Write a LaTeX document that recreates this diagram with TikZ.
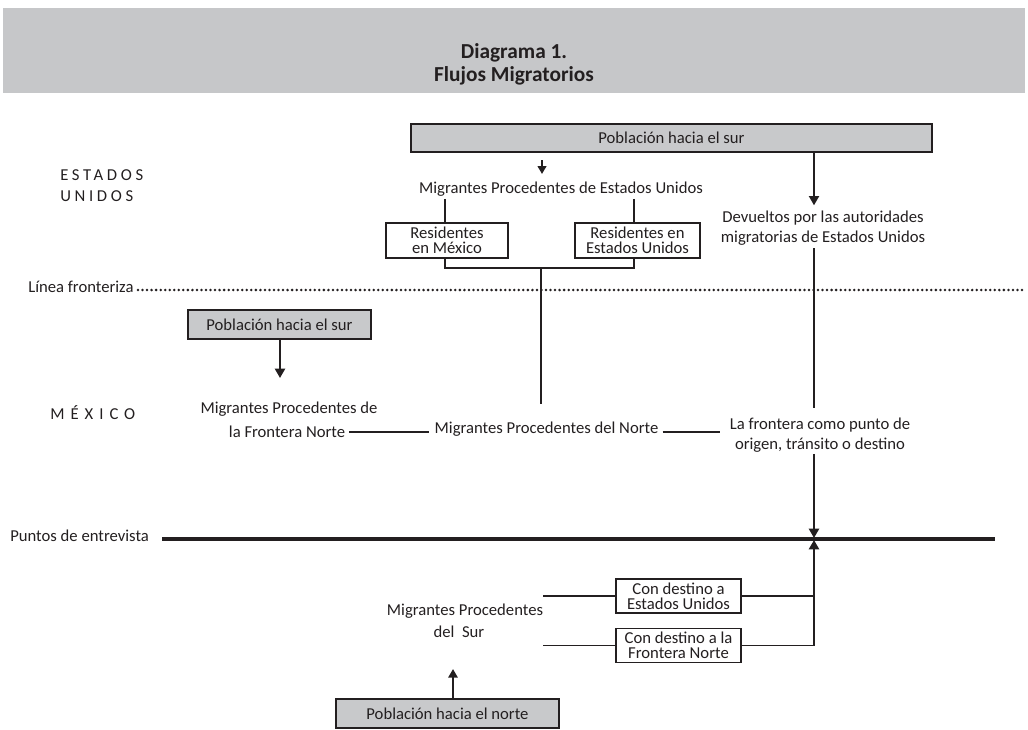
\documentclass[tikz,border=0pt]{standalone}
\usepackage{fontspec}
\setmainfont{Carlito}
\usetikzlibrary{arrows.meta}
\definecolor{hdr}{HTML}{C6C7C9}
\definecolor{boxg}{HTML}{C8C9CB}
\definecolor{ink}{HTML}{231F20}
\begin{document}
\begin{tikzpicture}[x=0.75pt,y=-0.75pt,
  every node/.style={text=ink, inner sep=0pt, font=\fontsize{12.5}{15}\selectfont},
  graybox/.style={draw=ink, fill=boxg, line width=0.9pt},
  whitebox/.style={draw=ink, fill=white, line width=0.9pt, align=center, font=\fontsize{12.5}{11.2}\selectfont},
  thin/.style={draw=ink, line width=0.95pt},
  flow/.style={draw=ink, line width=1.6pt, -{Triangle[length=7pt,width=7.5pt]}},
  caps/.style={font=\fontsize{12.5}{14}\selectfont\addfontfeature{LetterSpace=#1}},
  caps/.default=20,
  ttl/.style={font=\fontsize{16}{18}\bfseries\selectfont},
  dots/.style={draw=ink, line width=2.1pt, line cap=round, dash pattern=on 0pt off 3.4pt}
]
\useasboundingbox (0,0) rectangle (1028,729);
% header
\fill[hdr] (3,8) rectangle (1025,93);
\node[ttl, anchor=base] (t1) at (514,58.5) {Diagrama 1.};
\node[ttl, anchor=base] (t2) at (514,81) {Flujos Migratorios};

% side labels
\node[caps=22, anchor=base west] (eu1) at (60,180) {ESTADOS};
\node[caps=22, anchor=base west] (eu2) at (60,201) {UNIDOS};
\node[caps=36, anchor=base west] (mx) at (50,419) {MÉXICO};
\node[anchor=base west] (lf) at (28,292) {Línea fronteriza};
\node[anchor=base west] (pe) at (10,541) {Puntos de entrevista};

% border dotted line
\coordinate (ds) at (138,290);
\coordinate (de) at (1022,290);
\draw[dots] (ds) -- (de);

% interview line
\coordinate (pe2) at (995,539);
\draw[draw=ink, line width=2.3pt, shorten <=9.75pt] (pe.east |- pe2) -- (pe2);

% top part
\node[graybox, minimum width=390.75pt, minimum height=21pt] (pop1) at (671.5,138) {Población hacia el sur};
\node[anchor=base] (mpeu) at (561,193) {Migrantes Procedentes de Estados Unidos};
\coordinate (a1s) at (542,160);
\coordinate (a1e) at (542,174);
\draw[flow, line width=1.5pt, -{Triangle[length=6pt,width=6.5pt]}] (a1s) -- (a1e);

\node[whitebox, minimum width=91.5pt, minimum height=26.25pt] (resmx) at (447,240.5) {Residentes\\en México};
\node[whitebox, minimum width=93.75pt, minimum height=26.25pt] (reseu) at (637.5,240.5) {Residentes en\\Estados Unidos};
\coordinate (xl1) at (445,0);
\coordinate (xr1) at (634,0);
\draw[thin, shorten <=2pt] (mpeu.south -| xl1) -- (resmx.north -| xl1);
\draw[thin, shorten <=2pt] (mpeu.south -| xr1) -- (reseu.north -| xr1);
\coordinate (j1) at (541,268);
\coordinate (j2) at (541,404);
\draw[thin] (resmx.south -| xl1) |- (j1) -| (reseu.south -| xr1);
\draw[thin] (j1) -- (j2);

% returned
\node[anchor=base] (dev1) at (823,222.5) {Devueltos por las autoridades};
\node[anchor=base] (dev2) at (823,242.5) {migratorias de Estados Unidos};
\coordinate (xd) at (814,0);
\draw[flow, shorten >=4pt] (pop1.south -| xd) -- (dev1.north -| xd);

% middle
\node[graybox, minimum width=137.25pt, minimum height=21.75pt] (pop2) at (279.5,324.5) {Población hacia el sur};
\coordinate (a2e) at (280,378);
\draw[flow] (pop2.south -| a2e) -- (a2e);

\node[anchor=base] (mf1) at (289,413.5) {Migrantes Procedentes de};
\node[anchor=base] (mf2) at (287,437.5) {la Frontera Norte};
\node[anchor=base] (mpn) at (546.5,433.5) {Migrantes Procedentes del Norte};
\node[anchor=base] (fr1) at (820,429.5) {La frontera como punto de};
\node[anchor=base] (fr2) at (820,449.5) {origen, tránsito o destino};
\coordinate (yl) at (0,432);
\draw[thin, shorten <=3pt, shorten >=3.75pt] (mf2.east |- yl) -- (mpn.west |- yl);
\draw[thin, shorten <=3pt, shorten >=7.5pt] (mpn.east |- yl) -- (fr1.west |- yl);
\draw[thin, shorten <=2pt, shorten >=7pt] (dev2.south -| xd) -- (fr1.north -| xd);

\coordinate (dt) at (814,538);
\coordinate (ut) at (814,540);
\draw[flow, line width=2pt, shorten <=1pt] (fr2.south -| xd) -- (dt);

% bottom
\node[whitebox, minimum width=93.75pt, minimum height=25.5pt] (cd1) at (678.5,596) {Con destino a\\Estados Unidos};
\node[whitebox, minimum width=93.75pt, minimum height=25.5pt] (cd2) at (678.5,645.5) {Con destino a la\\Frontera Norte};
\draw[thin] (cd1.east) -- (cd1.east -| xd);
\draw[thin] (cd2.east) -- (cd2.east -| xd);
\draw[flow, line width=2pt] (cd2.east -| xd) -- (ut);

\node[anchor=base] (ms1) at (465,615) {Migrantes Procedentes};
\node[anchor=base] (ms2) at (459,637) {del\ \ Sur};
\draw[thin] (cd1.west) -- (cd1.west -| ms1.east);
\draw[thin] (cd2.west) -- (cd2.west -| ms1.east);

\node[graybox, minimum width=167.25pt, minimum height=21.75pt] (pop3) at (447.5,713.5) {Población hacia el norte};
\coordinate (a3e) at (453,669);
\draw[flow, line width=1.5pt, -{Triangle[length=6.5pt,width=7pt]}] (pop3.north -| a3e) -- (a3e);
\end{tikzpicture}
\end{document}
